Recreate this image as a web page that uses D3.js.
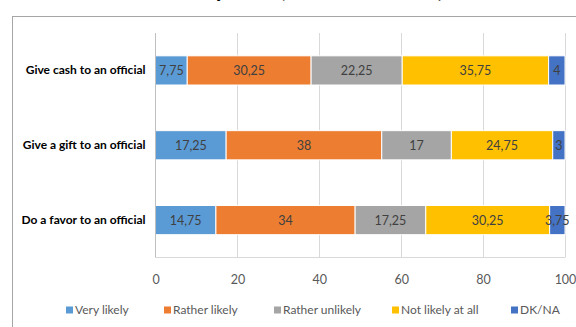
<!DOCTYPE html>
<html>
<head>
<meta charset="utf-8">
<script src="https://cdn.jsdelivr.net/npm/d3@7/dist/d3.min.js"></script>
<style>
  html, body { margin: 0; padding: 0; background: #fff; }
  svg { display: block; }
</style>
</head>
<body>
<svg id="chart" width="576" height="327"></svg>
<script>
// ---- data ----
const categories = ["Give cash to an official", "Give a gift to an official", "Do a favor to an official"];
const seriesNames = ["Very likely", "Rather likely", "Rather unlikely", "Not likely at all", "DK/NA"];
const veryLikely     = [7.75, 17.25, 14.75];
const ratherLikely   = [30.25, 38, 34];
const ratherUnlikely = [22.25, 17, 17.25];
const notLikelyAtAll = [35.75, 24.75, 30.25];
const dkNa           = [4, 3, 3.75];
const xTicks = [0, 20, 40, 60, 80, 100];
const titleText = "Bribery Cases (Total for All Sectors)";

const colors = ["#5B9BD5", "#ED7D31", "#A5A5A5", "#FFC000", "#4472C4"];
const seriesValues = [veryLikely, ratherLikely, ratherUnlikely, notLikelyAtAll, dkNa];

const rows = categories.map((c, i) => {
  const r = { category: c };
  seriesNames.forEach((s, j) => r[s] = seriesValues[j][i]);
  return r;
});

const svg = d3.select("#chart");
const font = "Lato, 'Open Sans', sans-serif";

// title (cut off at top, as in the reference)
svg.append("text")
  .attr("x", 305).attr("y", -3)
  .attr("text-anchor", "middle")
  .attr("font-family", "'Liberation Serif', 'DejaVu Serif', serif")
  .attr("font-weight", "bold")
  .attr("font-size", 18)
  .attr("fill", "#000")
  .text(titleText);

// chart border
svg.append("rect")
  .attr("x", 12.5).attr("y", 16.5)
  .attr("width", 600).attr("height", 400)
  .attr("fill", "none").attr("stroke", "#a6a6a6").attr("stroke-width", 1);

const plot = { left: 155.5, right: 565, top: 33, bottom: 257.5 };

const x = d3.scaleLinear().domain([0, 100]).range([plot.left, plot.right]);
const y = d3.scaleBand().domain(categories).range([plot.top, plot.bottom]).paddingInner(0.61).paddingOuter(0.305);

// gridlines
svg.append("g").selectAll("line").data(xTicks.filter(t => t > 0)).join("line")
  .attr("x1", d => Math.round(x(d)) + 0.5).attr("x2", d => Math.round(x(d)) + 0.5)
  .attr("y1", plot.top).attr("y2", plot.bottom)
  .attr("stroke", "#d9d9d9").attr("stroke-width", 1);

// bottom line
svg.append("line")
  .attr("x1", plot.left).attr("x2", plot.right)
  .attr("y1", plot.bottom).attr("y2", plot.bottom)
  .attr("stroke", "#d9d9d9");

// stack
const stack = d3.stack().keys(seriesNames)(rows);
const locale = d3.formatLocale({ decimal: ",", thousands: ".", grouping: [3], currency: ["", ""] });
const fmt = v => locale.format("~g")(v);

const g = svg.append("g");
stack.forEach((layer, j) => {
  g.append("g").selectAll("rect").data(layer).join("rect")
    .attr("x", d => x(d[0]))
    .attr("width", d => x(d[1]) - x(d[0]))
    .attr("y", d => y(d.data.category))
    .attr("height", y.bandwidth())
    .attr("fill", colors[j])
    .attr("stroke", "#fff").attr("stroke-width", 1);
});
stack.forEach((layer, j) => {
  g.append("g").selectAll("text").data(layer).join("text")
    .attr("x", d => (x(d[0]) + x(d[1])) / 2)
    .attr("y", d => y(d.data.category) + y.bandwidth() / 2)
    .attr("dy", "0.36em")
    .attr("text-anchor", "middle")
    .attr("font-family", font).attr("font-size", 12.5)
    .attr("fill", "#404040")
    .text(d => fmt(d[1] - d[0]));
});

// left axis line
svg.append("line")
  .attr("x1", plot.left).attr("x2", plot.left)
  .attr("y1", plot.top).attr("y2", plot.bottom)
  .attr("stroke", "#bfbfbf");

// category labels
const yAxis = svg.append("g").attr("transform", `translate(${plot.left},0)`)
  .call(d3.axisLeft(y).tickSize(0).tickPadding(10));
yAxis.select(".domain").remove();
yAxis.selectAll("text")
  .attr("font-family", font).attr("font-size", 12).attr("font-weight", "bold")
  .attr("fill", "#000");

// x axis labels
const xAxis = svg.append("g").attr("transform", `translate(0,${plot.bottom})`)
  .call(d3.axisBottom(x).tickValues(xTicks).tickSize(0).tickPadding(18).tickFormat(d3.format("d")));
xAxis.select(".domain").remove();
xAxis.selectAll("text")
  .attr("font-family", font).attr("font-size", 12.5).attr("fill", "#595959");

// legend
const legendX = [66, 164, 274, 392, 511];
const legend = svg.append("g");
seriesNames.forEach((s, j) => {
  const lg = legend.append("g").attr("transform", `translate(${legendX[j]},310)`);
  lg.append("rect").attr("x", 0).attr("y", -3.5).attr("width", 7).attr("height", 7).attr("fill", colors[j]);
  lg.append("text").attr("x", 9).attr("y", 0).attr("dy", "0.36em")
    .attr("font-family", font).attr("font-size", 12).attr("fill", "#595959").text(s);
});
</script>
</body>
</html>
